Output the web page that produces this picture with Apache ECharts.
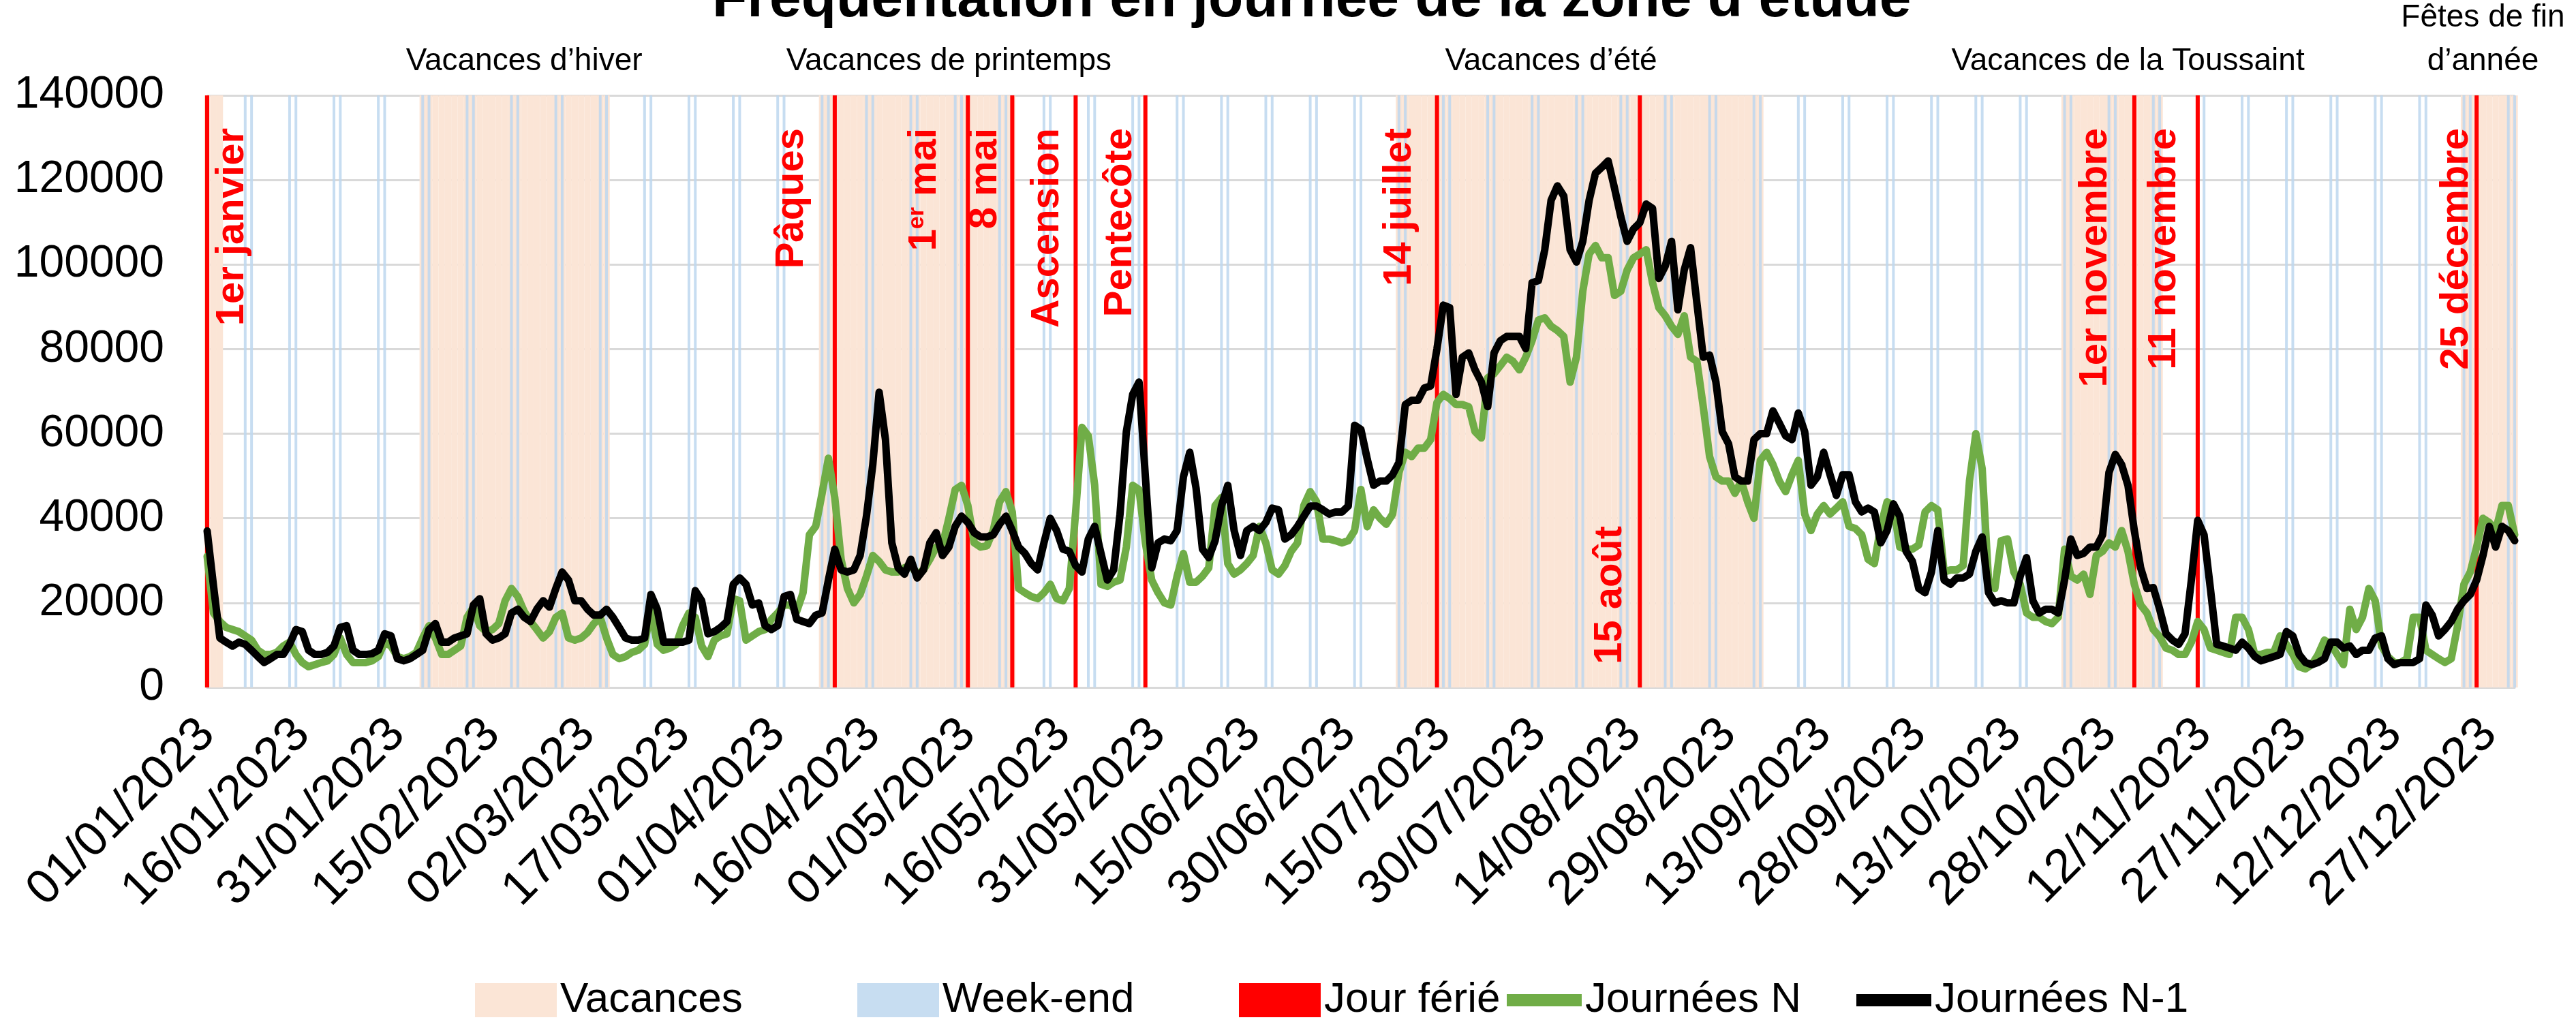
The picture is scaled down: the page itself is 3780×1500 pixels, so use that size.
<!DOCTYPE html>
<html>
<head>
    <meta charset="utf-8">
    <title>Fréquentation en journée de la zone d'étude</title>
    <script src="https://cdn.jsdelivr.net/npm/echarts@6/dist/echarts.min.js"></script>
</head>
<body style="margin:0">
<div id="main" style="width: 3780px;height:1500px;"></div>
<script type="text/javascript">
    // daily counts, 01/01/2023 -> 31/12/2023
    var journeesN = [
        31000, 17600, 15600, 14200, 13700, 13200, 12200, 11200, 8800, 7800,
        7800, 8300, 9800, 10700, 7800, 5900, 4900, 5400, 5900, 6300,
        7800, 11700, 7800, 5900, 5900, 5900, 6300, 7300, 10700, 9800,
        7300, 6800, 7300, 8300, 11700, 14600, 11700, 7800, 7800, 8800,
        9800, 16600, 19000, 14600, 13200, 13700, 15100, 20500, 23400, 21500,
        18000, 15600, 13700, 11700, 13200, 16600, 17600, 11700, 11200, 11700,
        13000, 15100, 16600, 11700, 7800, 6800, 7300, 8300, 8800, 10200,
        18500, 10200, 8800, 9300, 10200, 14600, 17600, 16600, 9800, 7300,
        11200, 12200, 12700, 21000, 20500, 11200, 12200, 13200, 13700, 16100,
        17600, 19500, 19500, 18000, 22400, 36100, 38100, 45900, 54200, 44900,
        30300, 23400, 20000, 22000, 26300, 31200, 29800, 27800, 27300, 27300,
        28300, 28800, 26800, 27800, 30300, 33200, 33700, 40000, 46800, 47800,
        43000, 34200, 33200, 33500, 37100, 43900, 46300, 41500, 23400, 22400,
        21500, 21000, 22400, 24400, 21000, 20500, 23400, 41500, 61500, 59500,
        47800, 24400, 23900, 24900, 25400, 33200, 47800, 46800, 34200, 25400,
        22400, 20000, 19500, 26300, 31700, 24900, 24900, 26300, 28300, 43000,
        44900, 29300, 26800, 27800, 29300, 31200, 38100, 34200, 27800, 26800,
        28800, 32200, 34200, 43000, 46300, 43900, 35100, 35100, 34700, 34200,
        34700, 37100, 46800, 38000, 42000, 40000, 38600, 41000, 50800, 55600,
        54600, 56600, 56600, 58600, 67400, 69300, 68300, 66900, 66900, 66400,
        60500, 59000, 73200, 74200, 76100, 78100, 77100, 75100, 78100, 82000,
        86900, 87400, 85400, 84400, 83000, 72200, 78100, 93700, 102500, 104500,
        101600, 101600, 92700, 93700, 98700, 101600, 102500, 103500, 95700, 89800,
        87900, 85400, 83500, 87900, 78100, 77100, 66400, 54600, 49800, 48800,
        48800, 45900, 48800, 43900, 40000, 53700, 55600, 52700, 48800, 46300,
        50300, 53700, 41000, 37100, 41000, 43000, 41000, 42400, 43900, 38100,
        37600, 36100, 30300, 29300, 38100, 43900, 43000, 33200, 32700, 32700,
        33700, 41500, 43000, 42000, 27300, 27800, 27800, 28800, 48800, 60000,
        51700, 25400, 23400, 34700, 35100, 27300, 24400, 17600, 16600, 16600,
        15600, 15100, 16600, 32700, 26300, 25400, 26800, 22000, 31200, 32200,
        34200, 33200, 37100, 32200, 24400, 19500, 17600, 13700, 12000, 9300,
        8800, 7800, 7800, 10700, 15600, 13700, 9300, 8800, 8300, 7800,
        16600, 16600, 13700, 7800, 7800, 8300, 8300, 12200, 10200, 7800,
        4900, 4400, 5400, 7800, 11200, 10200, 7800, 5400, 18500, 13700,
        16600, 23400, 20500, 9800, 7300, 5900, 5900, 6800, 16600, 16600,
        8800, 7800, 6800, 5900, 6800, 14600, 24400, 27300, 33200, 40000,
        39000, 37100, 43000, 43000, 36100
    ];

    var journeesN1 = [
        37000, 24000, 11700, 10700, 9800, 10700, 10200, 8800, 7300, 5900,
        6800, 7800, 7800, 10200, 13700, 13200, 8800, 7800, 7800, 8300,
        9800, 14200, 14600, 8800, 7800, 7800, 8000, 8800, 12700, 12200,
        6800, 6300, 6800, 7800, 8800, 13700, 15100, 10700, 10700, 11700,
        12200, 12700, 19500, 21000, 12700, 11200, 11700, 12700, 17600, 18500,
        16600, 15600, 18500, 20500, 19000, 23400, 27300, 25400, 20500, 20500,
        18500, 17100, 17100, 18500, 16600, 14200, 11700, 11200, 11200, 11700,
        22000, 18500, 10700, 10700, 10700, 10700, 11200, 22900, 20500, 12700,
        13200, 14200, 15600, 24400, 25900, 24400, 19500, 20000, 14600, 13700,
        14600, 21500, 22000, 16100, 15600, 15100, 17100, 17600, 25400, 32700,
        27800, 27300, 27800, 31200, 40500, 52700, 69800, 58600, 34200, 28300,
        26800, 30300, 25900, 27800, 34200, 36600, 31200, 33200, 38100, 40500,
        39000, 36600, 35600, 35600, 36100, 38600, 40500, 37100, 33200, 31700,
        29300, 27800, 34200, 40000, 37100, 32700, 32200, 28800, 27300, 35100,
        38100, 31700, 25400, 27800, 41000, 60500, 69300, 72200, 49800, 28300,
        34200, 35100, 34700, 37100, 49800, 55600, 47100, 32700, 30700, 34700,
        42900, 47800, 37100, 31200, 37100, 38100, 37100, 39000, 42400, 42000,
        35100, 36100, 38100, 40500, 42900, 42900, 42000, 41000, 41500, 41500,
        42900, 62000, 61000, 54000, 47800, 48800, 48800, 50300, 53200, 66900,
        67900, 67900, 70800, 71300, 80100, 90400, 89800, 69300, 78100, 79100,
        75100, 72200, 66400, 79100, 82000, 83000, 83000, 83000, 80100, 95700,
        96200, 103500, 115200, 118600, 116200, 103500, 100600, 105500, 115200, 121600,
        123000, 124500, 118100, 111300, 105500, 108400, 109900, 114300, 113300, 96700,
        99600, 105500, 89300, 98700, 104000, 90900, 78100, 78600, 72200, 60500,
        57600, 49800, 48800, 48800, 58600, 60000, 60000, 65400, 62500, 59500,
        58600, 64900, 60500, 47800, 49800, 55600, 50300, 45400, 50300, 50300,
        43900, 41500, 42400, 41500, 34200, 37100, 43400, 40500, 32200, 29800,
        23400, 22400, 27300, 37100, 25400, 24400, 25900, 25900, 26800, 32200,
        35600, 22400, 20000, 20500, 20000, 20000, 26300, 30700, 20500, 17600,
        18500, 18500, 17600, 25400, 35100, 31200, 31700, 33200, 33200, 36100,
        50800, 55100, 52700, 47800, 37100, 28300, 23400, 23600, 18500, 12700,
        11200, 10200, 12700, 25400, 39500, 36100, 23400, 10200, 9800, 9300,
        8800, 10700, 9300, 7300, 6300, 6800, 7300, 7800, 13200, 12200,
        7800, 5900, 5400, 5900, 6800, 10700, 10700, 9300, 9800, 7800,
        8800, 8800, 11700, 12200, 6800, 5400, 5900, 5900, 5900, 6800,
        19500, 17100, 12200, 13700, 15600, 18500, 20500, 22000, 25400, 31200,
        38100, 33200, 38100, 37100, 34700
    ];

    // school holiday periods (first day, last day)
    var vacances = [
        ['01/01/2023', '03/01/2023'],
        ['04/02/2023', '05/03/2023'],
        ['08/04/2023', '08/05/2023'],
        ['08/07/2023', '03/09/2023'],
        ['21/10/2023', '05/11/2023'],
        ['23/12/2023', '31/12/2023']
    ];

    var joursFeries = [
        ['01/01/2023', '1er janvier'],
        ['10/04/2023', 'Pâques'],
        ['01/05/2023', '1er mai'],
        ['08/05/2023', '8 mai'],
        ['18/05/2023', 'Ascension'],
        ['29/05/2023', 'Pentecôte'],
        ['14/07/2023', '14 juillet'],
        ['15/08/2023', '15 août'],
        ['01/11/2023', '1er novembre'],
        ['11/11/2023', '11 novembre'],
        ['25/12/2023', '25 décembre']
    ];

    // period names and the day they are centred on
    var periodes = [
        ['Vacances d\u2019hiver', '20/02/2023'],
        ['Vacances de printemps', '28/04/2023'],
        ['Vacances d\u2019été', '01/08/2023'],
        ['Vacances de la Toussaint', '31/10/2023'],
        ['Fêtes de fin\nd\u2019année', '26/12/2023']
    ];

    var SANS = '"Liberation Sans", Arial, sans-serif';
    var YMAX = 140000;

    function pad(n) { return n < 10 ? '0' + n : '' + n; }

    var dates = [], weekend = [];
    for (var i = 0; i < 365; i++) {
        var d = new Date(Date.UTC(2023, 0, 1 + i));
        dates.push(pad(d.getUTCDate()) + '/' + pad(d.getUTCMonth() + 1) + '/' + d.getUTCFullYear());
        weekend.push(d.getUTCDay() === 0 || d.getUTCDay() === 6);
    }

    var vacData = dates.map(function () { return null; });
    vacances.forEach(function (p) {
        for (var k = dates.indexOf(p[0]); k <= dates.indexOf(p[1]); k++) vacData[k] = YMAX;
    });
    var weData = weekend.map(function (w) { return w ? YMAX : null; });
    var ferData = dates.map(function () { return null; });
    joursFeries.forEach(function (h) { ferData[dates.indexOf(h[0])] = YMAX; });

    var myChart = echarts.init(document.getElementById('main'));

    function legendAt(name, left, line) {
        return {
            data: [name],
            left: left,
            top: 1432,
            icon: 'rect',
            selectedMode: false,
            itemWidth: line ? 110 : 120,
            itemHeight: line ? 18 : 50,
            itemGap: 0,
            textStyle: {fontSize: 62, fontFamily: SANS, color: '#000'}
        };
    }

    var hiddenAxis = {type: 'category', data: dates, boundaryGap: false, show: false};

    var option = {
        animation: false,
        backgroundColor: '#fff',
        title: {
            text: 'Fréquentation en journée de la zone d\u2019étude',
            left: 1040,
            top: -46,
            textStyle: {fontSize: 84, fontWeight: 'bold', fontFamily: SANS, color: '#000'}
        },
        legend: [
            legendAt('Vacances', 692, false),
            legendAt('Week-end', 1253, false),
            legendAt('Jour férié', 1813, false),
            legendAt('Journées N', 2206, true),
            legendAt('Journées N-1', 2719, true)
        ],
        grid: {left: 304, right: 90, top: 140, bottom: 491, containLabel: false, outerBoundsMode: 'none'},
        xAxis: [
            {
                type: 'category',
                data: dates,
                boundaryGap: false,
                axisLine: {lineStyle: {color: '#D9D9D9', width: 3}},
                axisTick: {show: false},
                splitLine: {show: false},
                axisLabel: {
                    interval: 14,
                    rotate: 45,
                    margin: 58,
                    fontSize: 71,
                    fontFamily: SANS,
                    color: '#000'
                }
            },
            hiddenAxis, hiddenAxis, hiddenAxis
        ],
        yAxis: {
            type: 'value',
            min: 0,
            max: YMAX,
            interval: 20000,
            axisLine: {show: false},
            axisTick: {show: false},
            splitLine: {lineStyle: {color: '#D9D9D9', width: 3}},
            axisLabel: {
                fontSize: 66, fontFamily: SANS, color: '#000', margin: 63,
                formatter: function (v) { return String(v); }
            }
        },
        series: [
            {
                name: 'Vacances', type: 'bar', xAxisIndex: 1, data: vacData,
                barCategoryGap: '0%', itemStyle: {color: '#FBE5D6'}, silent: true, z: 1
            },
            {
                name: 'Week-end', type: 'bar', xAxisIndex: 2, data: weData,
                barWidth: 4, itemStyle: {color: '#BDD7EE', opacity: 0.85}, silent: true, z: 2
            },
            {
                name: 'Jour férié', type: 'bar', xAxisIndex: 3, data: ferData,
                barWidth: 6, itemStyle: {color: '#FF0000'}, silent: true, z: 3
            },
            {
                name: 'Journées N', type: 'line', data: journeesN, symbol: 'none',
                itemStyle: {color: '#70AD47'},
                lineStyle: {color: '#70AD47', width: 11, join: 'round', cap: 'round'}, z: 4
            },
            {
                name: 'Journées N-1', type: 'line', data: journeesN1, symbol: 'none',
                itemStyle: {color: '#000000'},
                lineStyle: {color: '#000000', width: 11, join: 'round', cap: 'round'}, z: 5
            }
        ]
    };

    myChart.setOption(option);

    // text placed next to the holiday lines and above the holiday bands
    var ferieStyle = {
        '1er janvier': {side: 'right', gap: 8},
        'Pâques': {gap: 34},
        '1er mai': {gap: 34, text: '1{e|er} mai'},
        '8 mai': {gap: 10},
        'Ascension': {gap: 12},
        'Pentecôte': {gap: 8},
        '14 juillet': {gap: 26},
        '15 août': {gap: 14, bottom: true},
        '1er novembre': {gap: 28},
        '11 novembre': {gap: 20},
        '25 décembre': {gap: 0}
    };

    var elements = [];
    joursFeries.forEach(function (h) {
        var x = myChart.convertToPixel({xAxisIndex: 0}, h[0]);
        var s = ferieStyle[h[1]] || {gap: 20};
        var right = s.side === 'right';
        elements.push({
            type: 'text',
            x: right ? x + s.gap : x - s.gap,
            y: s.bottom ? 975 : 188,
            rotation: Math.PI / 2,
            z: 100,
            style: {
                text: s.text || h[1],
                fill: '#FF0000',
                font: 'bold 58px ' + SANS,
                align: s.bottom ? 'left' : 'right',
                verticalAlign: right ? 'top' : 'bottom',
                rich: {e: {fontSize: 34, fontWeight: 'bold', fontFamily: SANS, fill: '#FF0000', verticalAlign: 'top'}}
            }
        });
    });
    periodes.forEach(function (p) {
        elements.push({
            type: 'text',
            x: myChart.convertToPixel({xAxisIndex: 0}, p[1]),
            y: 122,
            z: 100,
            style: {
                text: p[0],
                fill: '#000',
                font: '46px ' + SANS,
                lineHeight: 64,
                align: 'center',
                verticalAlign: 'bottom'
            }
        });
    });
    myChart.setOption({graphic: {elements: elements}});
</script>
</body>
</html>
